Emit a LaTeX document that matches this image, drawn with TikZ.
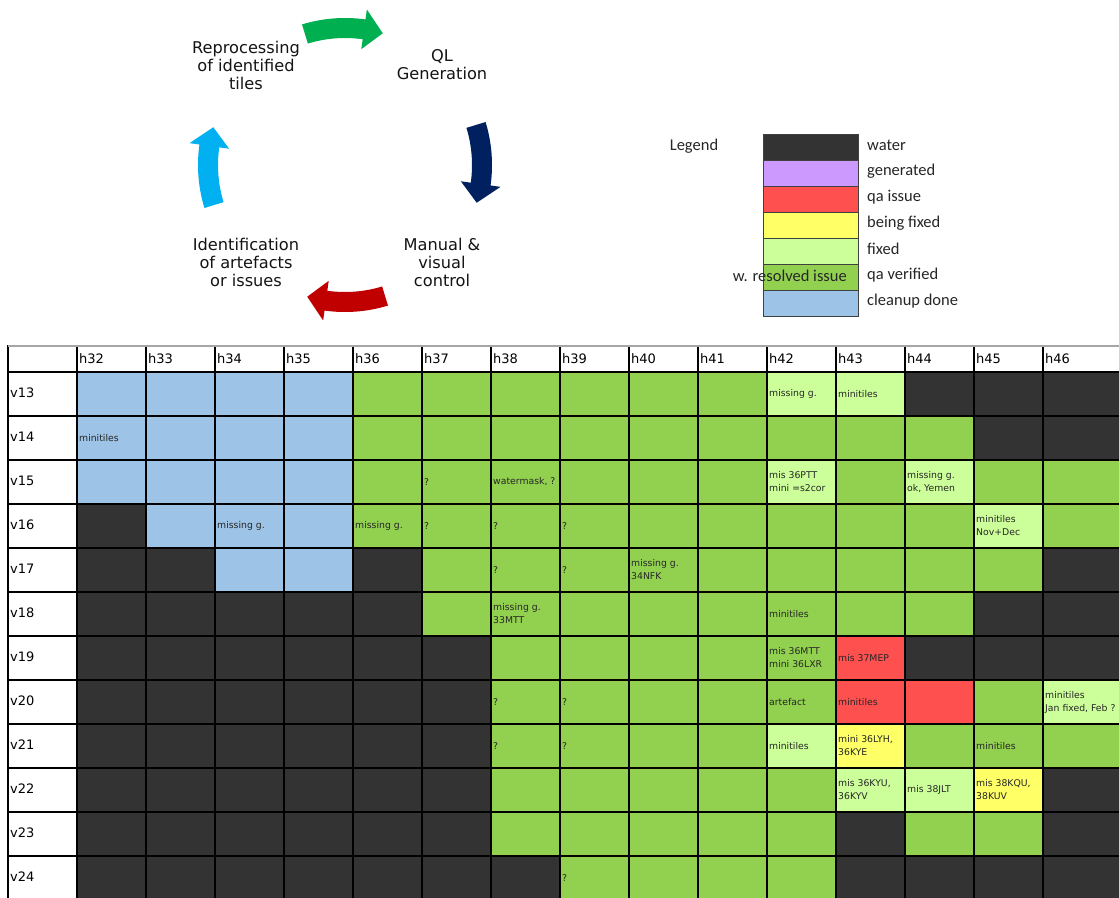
\documentclass[tikz,border=0pt]{standalone}
\usepackage{fontspec}
\setmainfont{DejaVu Sans}
\newfontfamily\legendfont{Carlito}

% tile status colours
\definecolor{cW}{HTML}{333333}% water
\definecolor{cP}{HTML}{CC99FF}% generated
\definecolor{cR}{HTML}{FF5050}% qa issue
\definecolor{cY}{HTML}{FFFF66}% being fixed
\definecolor{cF}{HTML}{CCFF99}% fixed
\definecolor{cG}{HTML}{92D050}% qa verified
\definecolor{cB}{HTML}{9DC3E6}% cleanup done
% cycle arrow colours
\definecolor{arrGreen}{HTML}{00B050}
\definecolor{arrNavy}{HTML}{002060}
\definecolor{arrRed}{HTML}{C00000}
\definecolor{arrCyan}{HTML}{00B0F0}

% curved block arrow around the cycle centre: #1 = mid angle, #2 = colour
\newcommand\cyclearrow[2]{%
  \fill[#2] ({#1-17}:147) arc[start angle=#1-17, end angle=#1+8, radius=147]
    -- ({#1+8}:157) -- ({#1+16}:137) -- ({#1+8}:117) -- ({#1+8}:127)
    arc[start angle=#1+8, end angle=#1-17, radius=127] -- cycle;}

\begin{document}
\begin{tikzpicture}[x=1pt, y=-1pt,
  cellbox/.style={draw=black, line width=1.5pt, minimum width=69pt,
    minimum height=44pt, anchor=north west, inner sep=0pt, outer sep=0pt},
  headbox/.style={cellbox, minimum height=26pt, fill=white},
  celltext/.style={anchor=west, inner sep=0pt, align=left, text=black!85,
    font=\fontsize{9.3}{13}\selectfont},
  headtext/.style={anchor=west, inner sep=0pt, text=black,
    font=\fontsize{13}{15}\selectfont},
  steptext/.style={align=center, inner sep=0pt, text=black!92,
    font=\fontsize{16.2}{18}\selectfont},
  legbox/.style={draw=black!75, line width=0.9pt, minimum width=95pt,
    minimum height=26pt, anchor=north west, inner sep=0pt, outer sep=0pt},
  legtext/.style={anchor=west, inner sep=0pt, text=black!85,
    font=\legendfont\fontsize{16.5}{18}\selectfont},
]
\useasboundingbox (0,0) rectangle (1119,897);
\clip (0,0) rectangle (1119,897);
\fill[white] (0,0) rectangle (1119,897);

% ---------- processing cycle ----------
\begin{scope}[shift={(345,165)}]
  \cyclearrow{-90}{arrGreen}
  \cyclearrow{0}{arrNavy}
  \cyclearrow{90}{arrRed}
  \cyclearrow{180}{arrCyan}
\end{scope}
\node[steptext] (reproc) at (246,65) {Reprocessing\\of identified\\tiles};
\node[steptext] (qlgen)  at (442,65) {QL\\Generation};
\node[steptext] (manual) at (442,262) {Manual \&\\visual\\control};
\node[steptext] (ident)  at (246,262) {Identification\\of artefacts\\or issues};

% ---------- legend ----------
\node[legtext, anchor=center] (legtitle) at (694,146) {Legend};
\foreach \c/\t [count=\k from 0] in {cW/water, cP/generated, cR/qa issue,
    cY/being fixed, cF/fixed, cG/qa verified, cB/cleanup done} {
  \node[legbox, fill=\c] (leg-\k) at (763,134+26*\k) {};
  \node[legtext] (legt-\k) at (867,145+26*\k) {\t};
}
\node[legtext, anchor=east] (resolved) at (847,276) {w. resolved issue};

% ---------- tile table (last column runs on past the edge) ----------
\node[headbox] (corner) at (8,346) {};
\foreach \h [count=\j from 0] in {32,...,46} {
  \node[headbox, minimum width={69+(\j==14)*40}] (hc-\j) at (77+69*\j,346) {};
  \node[headtext] (hl-\j) at (79+69*\j,359) {h\h};
}
\draw[black!35, line width=1.5pt] (corner.north west) -- (hc-14.north east);
\foreach \v [count=\i from 0] in {13,...,24} {
  \node[cellbox, fill=white] (rc-\i) at (8,372+44*\i) {};
  \node[headtext] (rl-\i) at (10,393+44*\i) {v\v};
}
\foreach \rowlist [count=\i from 0] in {
  {B,B,B,B,G,G,G,G,G,G,F,F,W,W,W},
  {B,B,B,B,G,G,G,G,G,G,G,G,G,W,W},
  {B,B,B,B,G,G,G,G,G,G,F,G,F,G,G},
  {W,B,B,B,G,G,G,G,G,G,G,G,G,F,G},
  {W,W,B,B,W,G,G,G,G,G,G,G,G,G,W},
  {W,W,W,W,W,G,G,G,G,G,G,G,G,W,W},
  {W,W,W,W,W,W,G,G,G,G,G,R,W,W,W},
  {W,W,W,W,W,W,G,G,G,G,G,R,R,G,F},
  {W,W,W,W,W,W,G,G,G,G,F,Y,G,G,G},
  {W,W,W,W,W,W,G,G,G,G,G,F,F,Y,W},
  {W,W,W,W,W,W,G,G,G,G,G,W,G,G,W},
  {W,W,W,W,W,W,W,G,G,G,G,W,W,W,W}} {
  \foreach \code [count=\j from 0] in \rowlist {
    \node[cellbox, fill=c\code, minimum width={69+(\j==14)*40}]
      (c-\i-\j) at (77+69*\j,372+44*\i) {};
  }
}
% notes written in the tiles
\foreach \i/\j/\txt in {
  0/10/{missing g.}, 0/11/{minitiles}, 1/0/{minitiles},
  2/5/{?}, 2/6/{watermask, ?}, 2/10/{mis 36PTT\\mini =s2cor},
  2/12/{missing g.\\ok, Yemen},
  3/2/{missing g.}, 3/4/{missing g.}, 3/5/{?}, 3/6/{?}, 3/7/{?},
  3/13/{minitiles\\Nov+Dec},
  4/6/{?}, 4/7/{?}, 4/8/{missing g.\\34NFK},
  5/6/{missing g.\\33MTT}, 5/10/{minitiles},
  6/10/{mis 36MTT\\mini 36LXR}, 6/11/{mis 37MEP},
  7/6/{?}, 7/7/{?}, 7/10/{artefact}, 7/11/{minitiles},
  7/14/{minitiles\\Jan fixed, Feb ?},
  8/6/{?}, 8/7/{?}, 8/10/{minitiles}, 8/11/{mini 36LYH,\\36KYE},
  8/13/{minitiles},
  9/11/{mis 36KYU,\\36KYV}, 9/12/{mis 38JLT}, 9/13/{mis 38KQU,\\38KUV},
  11/7/{?}} {
  \node[celltext] (t-\i-\j) at ([xshift=2pt]c-\i-\j.west) {\txt};
}
\end{tikzpicture}
\end{document}
